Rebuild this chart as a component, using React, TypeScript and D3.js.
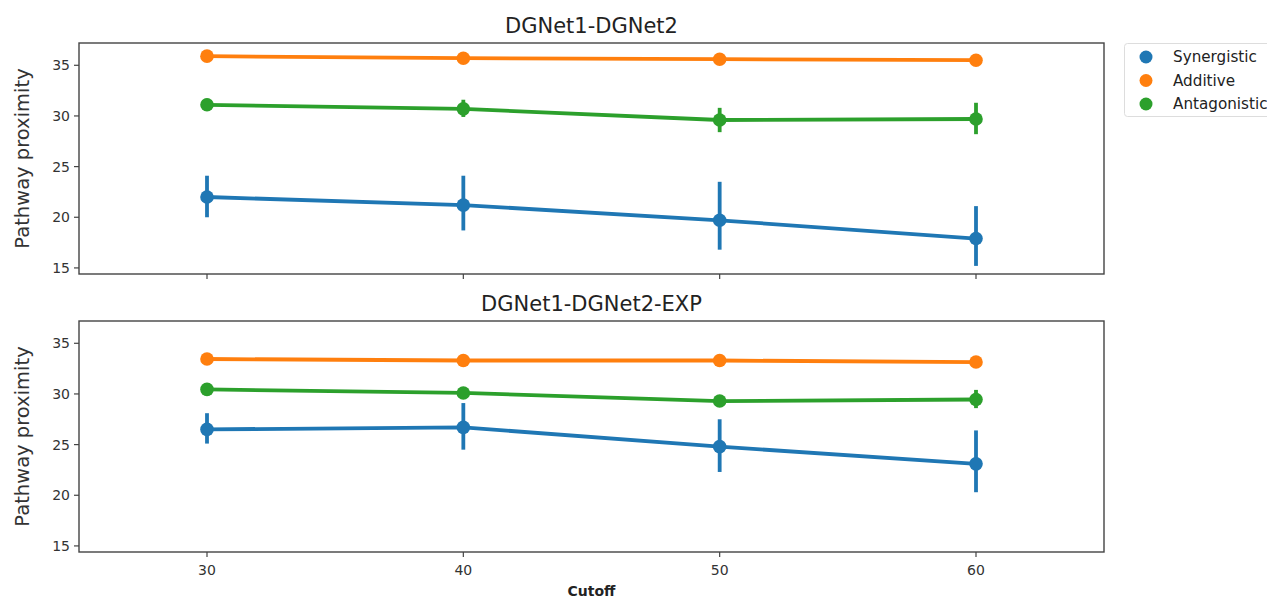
import React from "react";
import * as d3 from "d3";

const W = 1267;
const H = 599;

const cutoffs = ["30", "40", "50", "60"];
const groups = ["Synergistic", "Additive", "Antagonistic"];
const colors = ["#1f77b4", "#ff7f0e", "#2ca02c"];
const yTicks = [15, 20, 25, 30, 35];

// DGNet1-DGNet2 : mean, lower and upper whisker per group
const netMean = [
  [22.0, 21.2, 19.7, 17.9],
  [35.9, 35.7, 35.6, 35.5],
  [31.1, 30.7, 29.6, 29.7],
];
const netLow = [
  [20.0, 18.7, 16.8, 15.2],
  [35.8, 35.6, 35.5, 35.4],
  [30.5, 29.9, 28.4, 28.2],
];
const netHigh = [
  [24.1, 24.1, 23.5, 21.1],
  [36.0, 35.8, 35.7, 35.6],
  [31.7, 31.6, 30.8, 31.3],
];

// DGNet1-DGNet2-EXP
const expMean = [
  [26.5, 26.7, 24.8, 23.1],
  [33.45, 33.3, 33.3, 33.15],
  [30.45, 30.1, 29.3, 29.45],
];
const expLow = [
  [25.1, 24.5, 22.3, 20.3],
  [33.35, 33.2, 33.2, 33.05],
  [30.25, 29.9, 29.1, 28.6],
];
const expHigh = [
  [28.1, 29.1, 27.5, 26.4],
  [33.55, 33.4, 33.4, 33.25],
  [30.65, 30.3, 29.5, 30.4],
];

const LEFT = 79;
const RIGHT = 1104;
const FONT = "DejaVu Sans, sans-serif";
const AXIS = "#444";

const xScale = d3
  .scalePoint<string>()
  .domain(cutoffs)
  .range([LEFT + 128, RIGHT - 128]);

type PanelProps = {
  top: number;
  bottom: number;
  title: string;
  mean: number[][];
  low: number[][];
  high: number[][];
  showXLabels: boolean;
};

const Panel = ({ top, bottom, title, mean, low, high, showXLabels }: PanelProps) => {
  const yScale = d3.scaleLinear().domain([14.4, 37.2]).range([bottom, top]);
  const line = d3
    .line<number>()
    .x((_, i) => xScale(cutoffs[i]) as number)
    .y((d) => yScale(d));

  return (
    <g>
      <text
        x={(LEFT + RIGHT) / 2}
        y={top - 10}
        textAnchor="middle"
        fontSize={21}
        fill="#222"
      >
        {title}
      </text>
      {mean.map((m, g) => (
        <g key={g}>
          <path d={line(m) || ""} fill="none" stroke={colors[g]} strokeWidth={3.8} />
          {m.map((v, i) => (
            <g key={i}>
              <line
                x1={xScale(cutoffs[i])}
                x2={xScale(cutoffs[i])}
                y1={yScale(low[g][i])}
                y2={yScale(high[g][i])}
                stroke={colors[g]}
                strokeWidth={3.8}
              />
              <circle cx={xScale(cutoffs[i])} cy={yScale(v)} r={6.8} fill={colors[g]} />
            </g>
          ))}
        </g>
      ))}
      <rect
        x={LEFT}
        y={top}
        width={RIGHT - LEFT}
        height={bottom - top}
        fill="none"
        stroke={AXIS}
        strokeWidth={1.4}
      />
      {yTicks.map((t) => (
        <g key={t} transform={`translate(${LEFT},${yScale(t)})`}>
          <line x1={-5} x2={0} stroke={AXIS} strokeWidth={1.2} />
          <text x={-9} dy="0.35em" textAnchor="end" fontSize={14} fill="#333">
            {t}
          </text>
        </g>
      ))}
      {cutoffs.map((c) => (
        <g key={c} transform={`translate(${xScale(c)},${bottom})`}>
          <line y1={0} y2={5} stroke={AXIS} strokeWidth={1.2} />
          {showXLabels && (
            <text y={23} textAnchor="middle" fontSize={14} fill="#333">
              {c}
            </text>
          )}
        </g>
      ))}
      <text
        transform={`translate(29,${(top + bottom) / 2}) rotate(-90)`}
        textAnchor="middle"
        fontSize={19.5}
        fill="#333"
      >
        Pathway proximity
      </text>
    </g>
  );
};

const App = () => {
  return (
    <svg
      width={W}
      height={H}
      style={{ position: "absolute", left: 0, top: 0, background: "#fff" }}
      fontFamily={FONT}
    >
      <rect width={W} height={H} fill="#fff" />
      <Panel
        top={43}
        bottom={274}
        title="DGNet1-DGNet2"
        mean={netMean}
        low={netLow}
        high={netHigh}
        showXLabels={false}
      />
      <Panel
        top={321}
        bottom={552}
        title="DGNet1-DGNet2-EXP"
        mean={expMean}
        low={expLow}
        high={expHigh}
        showXLabels={true}
      />
      <text
        x={(LEFT + RIGHT) / 2}
        y={596}
        textAnchor="middle"
        fontSize={14}
        fontWeight="bold"
        fill="#222"
      >
        Cutoff
      </text>
      <g>
        <rect
          x={1124.5}
          y={43.5}
          width={160}
          height={73}
          rx={3}
          fill="#fff"
          stroke="#ddd"
          strokeWidth={1}
        />
        {groups.map((g, i) => (
          <g key={g} transform={`translate(0,${57 + i * 23.5})`}>
            <circle cx={1146} cy={0} r={6.5} fill={colors[i]} />
            <text x={1173} dy="0.35em" fontSize={15.2} fill="#222">
              {g}
            </text>
          </g>
        ))}
      </g>
    </svg>
  );
};

export default App;
